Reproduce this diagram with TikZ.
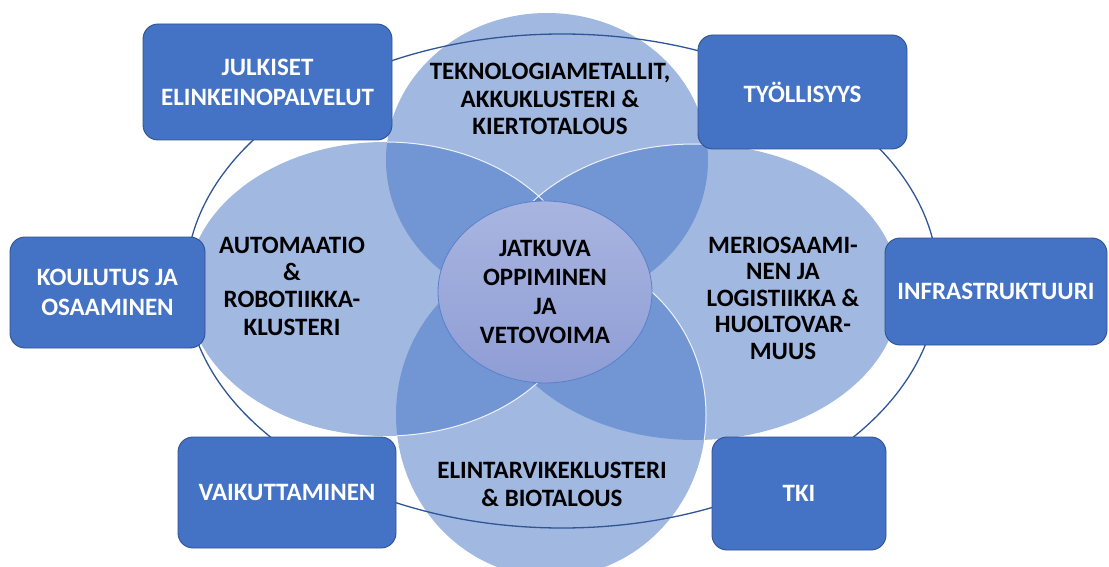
\documentclass[tikz,border=0pt]{standalone}
\usepackage{fontspec}
\setmainfont{Carlito}
\usetikzlibrary{shapes.geometric}
\definecolor{acc}{HTML}{4472C4}
\definecolor{boxedge}{HTML}{2F528F}
\definecolor{ringc}{HTML}{2F5597}
\definecolor{ctop}{HTML}{A9B5E0}
\definecolor{cbot}{HTML}{8E9DD5}
\definecolor{cedge}{HTML}{5B80CC}
\tikzset{
  petal/.style={fill=acc, fill opacity=0.5},
  edgeline/.style={draw=white, line width=1pt, opacity=0.85},
  cbox/.style={draw=boxedge, line width=0.9pt, fill=acc, rounded corners=15pt,
    text=white, font=\fontsize{25}{30}\selectfont\bfseries, align=center, inner sep=0pt},
  ptext/.style={text=black, font=\fontsize{25}{27.3}\selectfont\bfseries, align=center, inner sep=0pt},
}
\begin{document}
\begin{tikzpicture}[x=1pt,y=-1pt]
\useasboundingbox (0,0) rectangle (1109,567);
% petals (order: top, right, bottom, left)
\fill[petal] (547,160) ellipse [x radius=161pt, y radius=147pt];
\fill[petal] (695,292) ellipse [x radius=205pt, y radius=148pt];
\fill[petal] (551,415) ellipse [x radius=155pt, y radius=162pt];
\fill[petal] (385,289) ellipse [x radius=198pt, y radius=147pt];
% white outlines where a petal lies over another
\begin{scope}
  \clip (547,160) ellipse [x radius=161pt, y radius=147pt];
  \draw[edgeline] (695,292) ellipse [x radius=205pt, y radius=148pt];
  \draw[edgeline] (385,289) ellipse [x radius=198pt, y radius=147pt];
\end{scope}
\begin{scope}
  \clip (695,292) ellipse [x radius=205pt, y radius=148pt];
  \draw[edgeline] (551,415) ellipse [x radius=155pt, y radius=162pt];
\end{scope}
\begin{scope}
  \clip (551,415) ellipse [x radius=155pt, y radius=162pt];
  \draw[edgeline] (385,289) ellipse [x radius=198pt, y radius=147pt];
\end{scope}
% outer ring
\draw[ringc, line width=1.3pt] (562,281) ellipse [x radius=376pt, y radius=247pt];
% centre
\node[ellipse, minimum width=214pt, minimum height=182pt, inner sep=0pt,
  top color=ctop, bottom color=cbot, draw=cedge, line width=0.8pt,
  font=\fontsize{25}{29}\selectfont\bfseries, align=center] (core) at (545,292)
  {JATKUVA\\OPPIMINEN\\JA\\VETOVOIMA};
% petal texts
\node[ptext] (ptop) at (550,99) {TEKNOLOGIAMETALLIT,\\AKKUKLUSTERI \&\\KIERTOTALOUS};
\node[ptext] (pleft) at (292,286) {AUTOMAATIO\\\&\\ROBOTIIKKA-\\KLUSTERI};
\node[ptext, font=\fontsize{25}{26.5}\selectfont\bfseries] (pright) at (783,298) {MERIOSAAMI-\\NEN JA\\LOGISTIIKKA \&\\HUOLTOVAR-\\MUUS};
\node[ptext, font=\fontsize{25}{28}\selectfont\bfseries] (pbot) at (552,484) {ELINTARVIKEKLUSTERI\\\& BIOTALOUS};
% boxes
\node[cbox, minimum width=249pt, minimum height=116pt] (jul) at (267.5,82) {JULKISET\\ELINKEINOPALVELUT};
\node[cbox, minimum width=209pt, minimum height=114pt] (tyo) at (802.5,92) {TYÖLLISYYS};
\node[cbox, minimum width=195pt, minimum height=111pt] (kou) at (107.5,292.5) {KOULUTUS JA\\OSAAMINEN};
\node[cbox, minimum width=222pt, minimum height=107pt] (inf) at (996,291.5) {INFRASTRUKTUURI};
\node[cbox, minimum width=218pt, minimum height=111pt] (vai) at (287,492.5) {VAIKUTTAMINEN};
\node[cbox, minimum width=174pt, minimum height=113pt] (tki) at (799,493.5) {TKI};
\end{tikzpicture}
\end{document}
